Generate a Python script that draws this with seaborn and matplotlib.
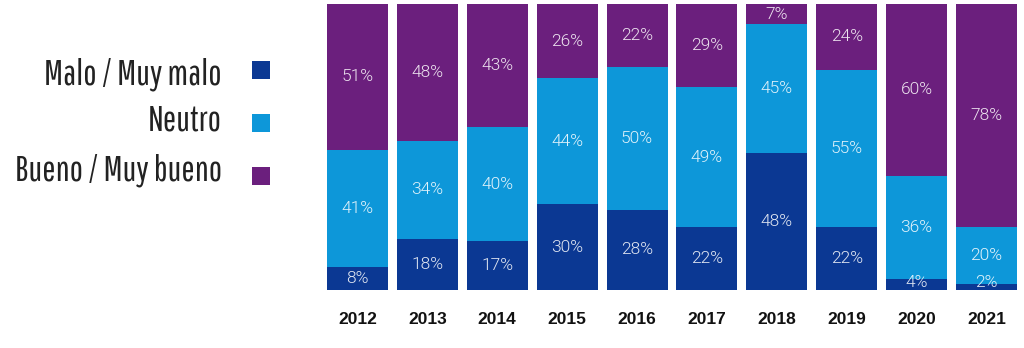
import numpy as np
import pandas as pd
import seaborn as sns
import matplotlib
matplotlib.use("Agg")
import matplotlib.pyplot as plt
from matplotlib.patches import Rectangle
from matplotlib import font_manager as fm

years = ["2012", "2013", "2014", "2015", "2016", "2017", "2018", "2019", "2020", "2021"]
malo = [8, 18, 17, 30, 28, 22, 48, 22, 4, 2]
neutro = [41, 34, 40, 44, 50, 49, 45, 55, 36, 20]
bueno = [51, 48, 43, 26, 22, 29, 7, 24, 60, 78]
series_names = ["Malo / Muy malo", "Neutro", "Bueno / Muy bueno"]
colors = ["#0b3893", "#0d97d9", "#6b1f7d"]

sns.set_theme(style="white")
plt.rcParams["font.family"] = ["Roboto", "DejaVu Sans"]

available = {}
for f in fm.fontManager.ttflist:
    available.setdefault(f.name, set()).add(f.weight if isinstance(f.weight, int) else 400)

def pick(cands):
    for c in cands:
        if c in available:
            return c
    return "DejaVu Sans"

def light_weight(fam):
    ws = sorted(w for w in available.get(fam, {400}) if isinstance(w, int))
    lights = [w for w in ws if w < 400]
    return max(lights) if lights else "normal"

legend_font = pick(["Pathway Gothic One", "Roboto Condensed", "Barlow Condensed",
                    "Saira Extra Condensed", "Open Sans Condensed", "Yanone Kaffeesatz",
                    "Liberation Sans Narrow", "Archivo Narrow", "PT Sans Narrow", "Oswald"])
legend_weight = light_weight(legend_font) if legend_font != "Pathway Gothic One" else "normal"
pct_weight = light_weight("Roboto")

df = pd.DataFrame({"year": years, "malo": malo, "neutro": neutro, "bueno": bueno})
df["c1"] = df["malo"]
df["c2"] = df["malo"] + df["neutro"]
df["c3"] = df["c2"] + df["bueno"]

W, H = 1024, 348
fig = plt.figure(figsize=(W / 100, H / 100), dpi=100)
ax = fig.add_axes([322.5 / W, (H - 290) / H, 699 / W, 286 / H])

width = 0.873
for col, c in zip(["c3", "c2", "c1"], colors[::-1]):
    sns.barplot(data=df, x="year", y=col, color=c, width=width, ax=ax,
                saturation=1, linewidth=0, order=years)

ax.set_ylim(0, 100)
ax.set_xlim(-0.5, 9.5)
ax.set_xlabel("")
ax.set_ylabel("")
ax.set_yticks([])
ax.tick_params(axis="x", length=0, pad=16)
for lab in ax.get_xticklabels():
    lab.set_fontfamily(["Liberation Sans", "DejaVu Sans"])
    lab.set_fontweight("bold")
    lab.set_fontsize(12.5)
    lab.set_color("#111111")
sns.despine(ax=ax, left=True, bottom=True)

for i in range(len(years)):
    segs = [(0, malo[i]), (malo[i], neutro[i]), (malo[i] + neutro[i], bueno[i])]
    for b, h in segs:
        top = min(b + h, 100)
        yc = (b + top) / 2
        if h < 5:
            yc = b + 2.6
        ax.text(i, yc, f"{h}%", ha="center", va="center", fontsize=12.5,
                color="white", alpha=0.88, fontweight=pct_weight,
                family=["Roboto", "DejaVu Sans"])

# Legend drawn manually
text_y = [74, 120, 170]
box_y = [69.5, 123, 175.5]
texts = []
for name, c, ty, by in zip(series_names, colors, text_y, box_y):
    t = fig.text(222 / W, 1 - ty / H, name, ha="right", va="center",
                 fontsize=26, color="#222222", fontweight=legend_weight,
                 family=[legend_font, "DejaVu Sans"])
    texts.append(t)
    fig.patches.append(Rectangle((252 / W, 1 - (by + 9) / H), 18 / W, 18 / H,
                                 transform=fig.transFigure, facecolor=c,
                                 edgecolor="none"))

# fit legend text width to the reference (~177 px for the first label)
fig.canvas.draw()
r = fig.canvas.get_renderer()
wpx = texts[0].get_window_extent(r).width
scale = 177.0 / wpx
new_size = max(14, min(30, 26 * scale))
for t in texts:
    t.set_fontsize(new_size)

fig.savefig("out.png", dpi=100)
